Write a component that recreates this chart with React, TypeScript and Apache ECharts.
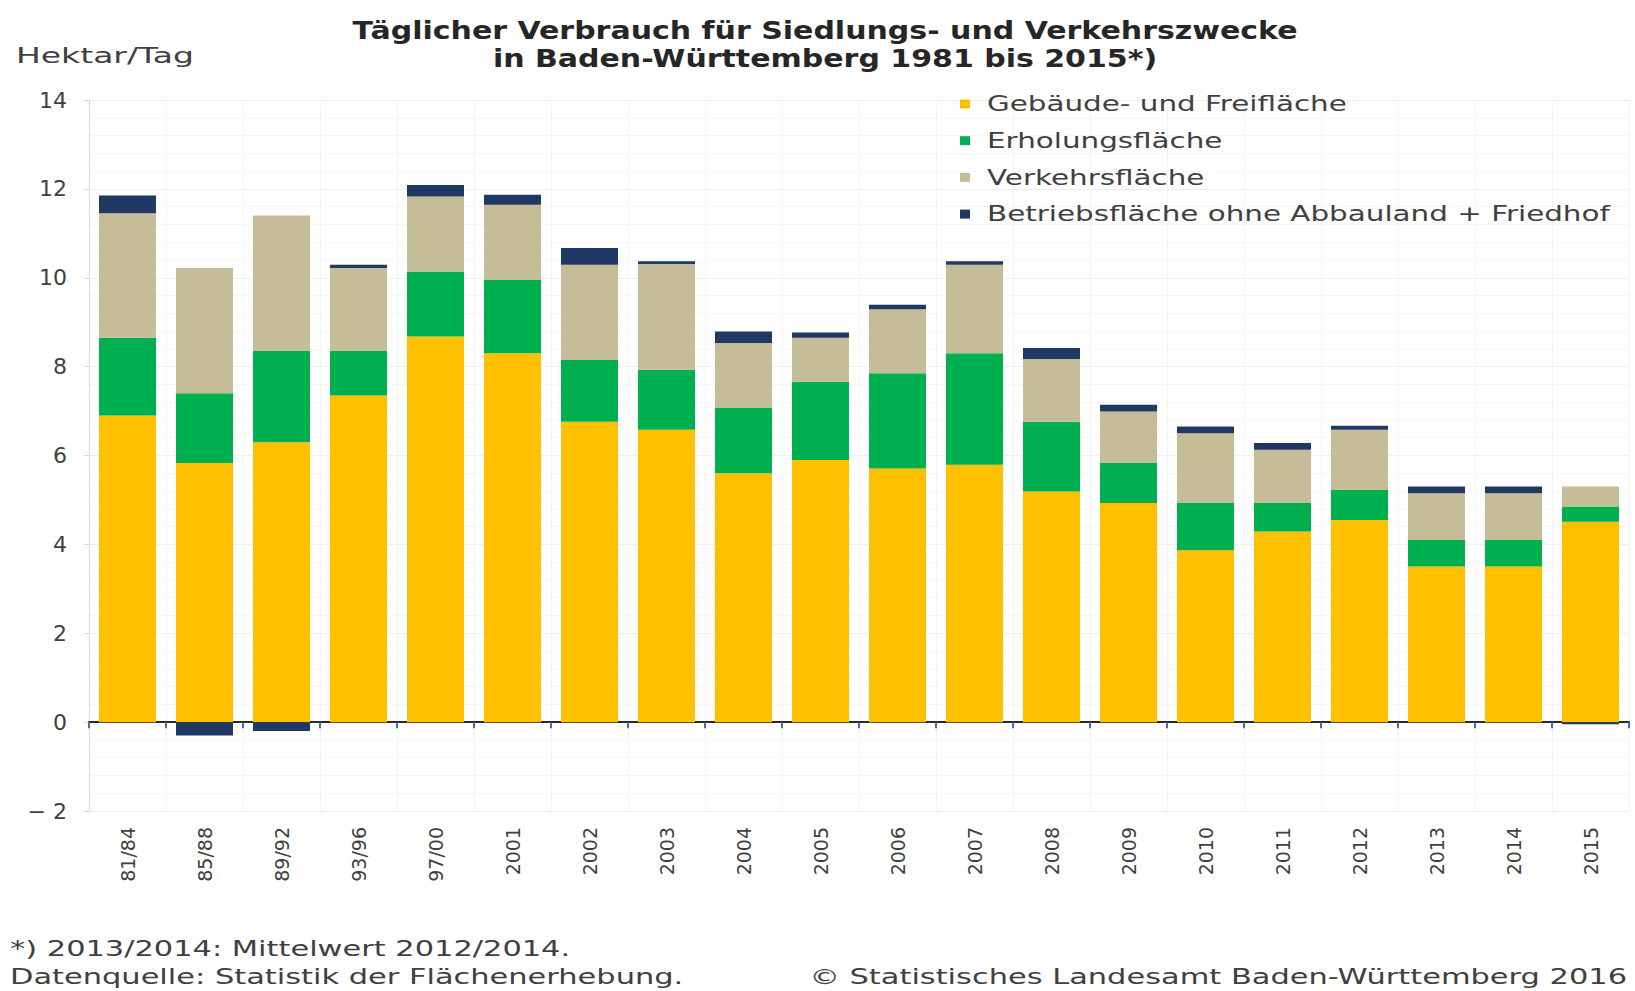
import React, { useEffect, useRef } from "react";
import * as echarts from "echarts";

const categories = ["81/84", "85/88", "89/92", "93/96", "97/00", "2001", "2002", "2003", "2004", "2005", "2006", "2007", "2008", "2009", "2010", "2011", "2012", "2013", "2014", "2015"];

const gebaeude = [6.9, 5.83, 6.3, 7.35, 8.68, 8.3, 6.76, 6.58, 5.6, 5.9, 5.71, 5.79, 5.19, 4.93, 3.87, 4.29, 4.55, 3.5, 3.5, 4.51];
const erholung = [1.75, 1.57, 2.05, 1.0, 1.46, 1.65, 1.39, 1.35, 1.47, 1.76, 2.14, 2.51, 1.57, 0.9, 1.06, 0.64, 0.68, 0.6, 0.6, 0.34];
const verkehr = [2.8, 2.82, 3.05, 1.87, 1.69, 1.69, 2.14, 2.38, 1.46, 0.99, 1.44, 1.99, 1.41, 1.16, 1.57, 1.2, 1.35, 1.05, 1.05, 0.45];
const betrieb = [0.4, -0.3, -0.2, 0.07, 0.26, 0.23, 0.38, 0.06, 0.26, 0.12, 0.1, 0.08, 0.25, 0.15, 0.15, 0.15, 0.09, 0.15, 0.15, -0.05];

const seriesNames = ["Gebäude- und Freifläche", "Erholungsfläche", "Verkehrsfläche", "Betriebsfläche ohne Abbauland + Friedhof"];
const seriesColors = ["#FFC000", "#00B050", "#C4BD97", "#1F3864"];

const yTicks = { min: -2, max: 14, interval: 2 };

const titleLines = ["Täglicher Verbrauch für Siedlungs- und Verkehrszwecke", "in Baden-Württemberg 1981 bis 2015*)"];
const unitLabel = "Hektar/Tag";
const footnotes = ["*) 2013/2014: Mittelwert 2012/2014.", "Datenquelle: Statistik der Flächenerhebung."];
const copyright = "© Statistisches Landesamt Baden-Württemberg 2016";

const FONT = "DejaVu Sans";

export default function App() {
  const ref = useRef<HTMLDivElement>(null);
  useEffect(() => {
    if (!ref.current) return;
    const chart = echarts.init(ref.current, null, { renderer: "svg" });
    const data = [gebaeude, erholung, verkehr, betrieb];

    const legendItems: any[] = [];
    seriesNames.forEach((name, i) => {
      const cy = 104 + i * 36.7;
      legendItems.push({
        type: "rect",
        z: 100,
        shape: { x: 960, y: cy - 4.5, width: 10, height: 9 },
        style: { fill: seriesColors[i] },
      });
      legendItems.push({
        type: "text",
        z: 100,
        x: 987,
        y: cy,
        scaleX: 1.4,
        style: { text: name, fontFamily: FONT, fontSize: 21, fill: "#404040", align: "left", verticalAlign: "middle" },
      });
    });

    chart.setOption({
      animation: false,
      backgroundColor: "#ffffff",
      grid: { left: 89, right: 6, top: 100, bottom: 180, containLabel: false },
      xAxis: [
        {
          type: "category",
          data: categories,
          position: "bottom",
          axisLine: { show: false, onZero: false },
          axisTick: { show: false },
          axisLabel: { rotate: 90, margin: 16, fontFamily: FONT, fontSize: 19, color: "#404040" },
          splitLine: { show: true, lineStyle: { color: "#f3f3f3", width: 1 } },
        },
        {
          type: "category",
          data: categories,
          position: "bottom",
          axisLine: { show: true, onZero: true, lineStyle: { color: "#2e2a22", width: 2 } },
          axisTick: { show: true, length: 6, lineStyle: { color: "#4a6aa8", width: 2 } },
          axisLabel: { show: false },
          splitLine: { show: false },
        },
      ],
      yAxis: {
        type: "value",
        min: yTicks.min,
        max: yTicks.max,
        interval: yTicks.interval,
        axisLine: { show: true, lineStyle: { color: "#d9d9d9" } },
        axisTick: { show: true, length: 5, lineStyle: { color: "#d9d9d9" } },
        axisLabel: {
          margin: 22,
          fontFamily: FONT,
          fontSize: 22,
          color: "#404040",
          formatter: (v: number) => String(v).replace("-", "− "),
        },
        splitLine: { show: true, lineStyle: { color: "#eeeeee" } },
        minorTick: { show: false, splitNumber: 5 },
        minorSplitLine: { show: true, lineStyle: { color: "#f6f6f6" } },
      },
      series: seriesNames.map((name, i) => ({
        name,
        type: "bar",
        stack: "total",
        xAxisIndex: 0,
        barWidth: 57,
        itemStyle: { color: seriesColors[i] },
        data: data[i],
      })),
      graphic: [
        {
          type: "text",
          z: 100,
          x: 825,
          y: 31,
          scaleX: 1.25,
          style: { text: titleLines[0], fontFamily: FONT, fontSize: 24, fontWeight: "bold", fill: "#262626", align: "center", verticalAlign: "middle" },
        },
        {
          type: "text",
          z: 100,
          x: 825,
          y: 59,
          scaleX: 1.25,
          style: { text: titleLines[1], fontFamily: FONT, fontSize: 24, fontWeight: "bold", fill: "#262626", align: "center", verticalAlign: "middle" },
        },
        {
          type: "text",
          z: 100,
          x: 16,
          y: 56,
          scaleX: 1.5,
          style: { text: unitLabel, fontFamily: FONT, fontSize: 22, fill: "#404040", align: "left", verticalAlign: "middle" },
        },
        {
          type: "text",
          z: 100,
          x: 10,
          y: 949,
          scaleX: 1.45,
          style: { text: footnotes[0], fontFamily: FONT, fontSize: 21, fill: "#404040", align: "left", verticalAlign: "middle" },
        },
        {
          type: "text",
          z: 100,
          x: 10,
          y: 977,
          scaleX: 1.45,
          style: { text: footnotes[1], fontFamily: FONT, fontSize: 21, fill: "#404040", align: "left", verticalAlign: "middle" },
        },
        {
          type: "text",
          z: 100,
          x: 1627,
          y: 977,
          scaleX: 1.45,
          style: { text: copyright, fontFamily: FONT, fontSize: 21, fill: "#404040", align: "right", verticalAlign: "middle" },
        },
        ...legendItems,
      ],
    });
    return () => chart.dispose();
  }, []);
  return <div ref={ref} style={{ position: "absolute", left: 0, top: 0, width: 1635, height: 991 }} />;
}
